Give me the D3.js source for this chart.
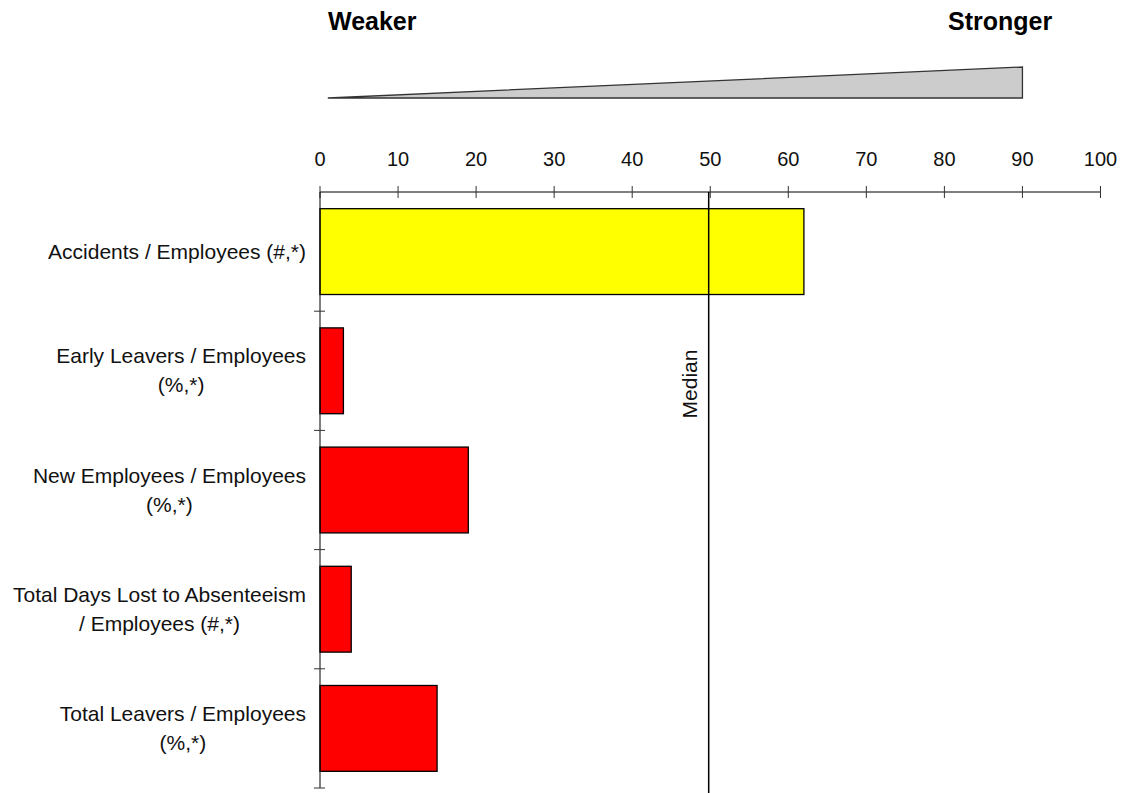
<!DOCTYPE html>
<html><head><meta charset="utf-8">
<script src="https://cdn.jsdelivr.net/npm/d3@7/dist/d3.min.js"></script>
<style>body{margin:0;background:#fff}svg{display:block}text{font-family:"Liberation Sans",Arial,sans-serif}</style>
</head><body><svg id="c" width="1125" height="793"></svg>
<script>
const categories = [
  ["Accidents / Employees (#,*)"],
  ["Early Leavers / Employees", "(%,*)"],
  ["New Employees / Employees", "(%,*)"],
  ["Total Days Lost to Absenteeism", "/ Employees (#,*)"],
  ["Total Leavers / Employees", "(%,*)"]
];
const values = [62, 3, 19, 4, 15];
const barColors = ["#ffff00", "#ff0000", "#ff0000", "#ff0000", "#ff0000"];
const xTicks = [0, 10, 20, 30, 40, 50, 60, 70, 80, 90, 100];
const median = 49.8;
const wedge = [1, 90]; // weaker -> stronger scale indicator extent

const svg = d3.select("#c");
const x = d3.scaleLinear().domain([0, 100]).range([320, 1100.5]);
const keys = categories.map((d, i) => i);
const y = d3.scaleBand().domain(keys).range([192, 788]).paddingInner(0.28).paddingOuter(0.14);

// headers
svg.append("text").attr("x", 328).attr("y", 30).attr("font-size", 25).attr("font-weight", "bold").text("Weaker");
svg.append("text").attr("x", 948).attr("y", 30).attr("font-size", 25).attr("font-weight", "bold").text("Stronger");

// wedge
svg.append("path")
  .attr("d", `M${x(wedge[0])},98 L${x(wedge[1])},67 L${x(wedge[1])},98 Z`)
  .attr("fill", "#cccccc").attr("stroke", "#333").attr("stroke-width", 1.3);

// x axis
const xa = svg.append("g").attr("transform", "translate(0,192)");
xa.append("line").attr("x1", x(0)).attr("x2", x(100)).attr("stroke", "#000").attr("stroke-width", 1);
xa.selectAll("line.t").data(xTicks).join("line").attr("class", "t")
  .attr("x1", d => x(d)).attr("x2", d => x(d)).attr("y1", -6).attr("y2", 6)
  .attr("stroke", "#333").attr("stroke-width", 1);
xa.selectAll("text").data(xTicks).join("text")
  .attr("x", d => x(d)).attr("y", -26).attr("text-anchor", "middle").attr("font-size", 20).attr("fill", "#111").text(d => d);

// bars
svg.selectAll("rect.bar").data(values).join("rect").attr("class", "bar")
  .attr("x", x(0)).attr("y", (d, i) => y(i))
  .attr("width", d => x(d) - x(0)).attr("height", y.bandwidth())
  .attr("fill", (d, i) => barColors[i]).attr("stroke", "#000").attr("stroke-width", 1.3);

// y axis
svg.append("line").attr("x1", x(0)).attr("x2", x(0)).attr("y1", 192).attr("y2", 788).attr("stroke", "#000");
const bounds = keys.map(k => y(k) + y.bandwidth() + y.step() * 0.14);
svg.selectAll("line.yt").data(bounds).join("line").attr("class", "yt")
  .attr("x1", 314).attr("x2", 325).attr("y1", d => d).attr("y2", d => d).attr("stroke", "#333");

// category labels
const lg = svg.selectAll("text.cat").data(categories).join("text").attr("class", "cat")
  .attr("text-anchor", "middle").attr("font-size", 21).attr("fill", "#111");
lg.each(function(lines, i) {
  const cy = y(i) + y.bandwidth() / 2;
  const lh = 29;
  const t = d3.select(this);
  lines.forEach((ln, j) => {
    t.append("tspan").attr("x", 0).attr("y", cy + 7 + (j - (lines.length - 1) / 2) * lh).text(ln);
  });
});
lg.each(function() {
  const t = d3.select(this);
  const bb = this.getBBox();
  const cx = 306 - bb.width / 2;
  t.selectAll("tspan").attr("x", cx);
});

// median line
svg.append("line").attr("x1", x(median)).attr("x2", x(median)).attr("y1", 192).attr("y2", 793)
  .attr("stroke", "#000").attr("stroke-width", 1.5);
svg.append("text").attr("transform", `translate(${x(median) - 12},384) rotate(-90)`)
  .attr("text-anchor", "middle").attr("font-size", 21).attr("fill", "#111").text("Median");
</script></body></html>
